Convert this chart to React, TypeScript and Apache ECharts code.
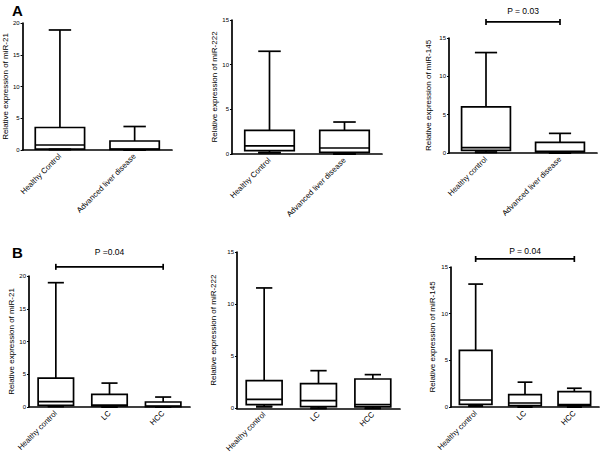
import React, { useEffect, useRef } from "react";
import * as echarts from "echarts";

// ---------- data ----------
const catsA1 = ["Healthy Control", "Advanced liver disease"];
const catsA2 = ["Healthy Control", "Advanced liver disease"];
const catsA3 = ["Healthy control", "Advanced liver disease"];
const catsB = ["Healthy control", "LC", "HCC"];

// [min, Q1, median, Q3, max]
const a1miR21 = [
  [0.1, 0.15, 0.79, 3.54, 18.9],
  [0, 0.1, 0.15, 1.42, 3.7],
];
const a2miR222 = [
  [0.15, 0.37, 0.9, 2.65, 11.5],
  [0, 0.19, 0.67, 2.65, 3.58],
];
const a3miR145 = [
  [0.1, 0.35, 0.69, 6.02, 13.1],
  [0, 0.13, 0.2, 1.39, 2.56],
];
const b1miR21 = [
  [0.1, 0.25, 0.81, 4.42, 18.98],
  [0, 0.15, 0.3, 1.93, 3.65],
  [0, 0.05, 0.15, 0.76, 1.52],
];
const b2miR222 = [
  [0.16, 0.35, 0.86, 2.65, 11.55],
  [0, 0.16, 0.74, 2.37, 3.61],
  [0, 0.13, 0.35, 2.81, 3.23],
];
const b3miR145 = [
  [0.1, 0.29, 0.75, 6.06, 13.17],
  [0, 0.14, 0.43, 1.33, 2.66],
  [0, 0.14, 0.25, 1.65, 2.01],
];

const yTitles = [
  "Relative expression of miR-21",
  "Relative expression of miR-222",
  "Relative expression of miR-145",
  "Relative expression of miR-21",
  "Relative expression of miR-222",
  "Relative expression of miR-145",
];
const yMax = [20, 15, 15, 20, 15, 15];
const yStep = [5, 5, 5, 5, 5, 5];

// significance brackets: [panel, fromCat, toCat, yValue, label]
const brackets: [number, number, number, number, string][] = [
  [2, 0, 1, 17.1, "P = 0.03"],
  [3, 0, 2, 21.4, "P =0.04"],
  [5, 0, 2, 15.86, "P = 0.04"],
];

// ---------- layout ----------
const panels = [
  { cats: catsA1, data: a1miR21, grid: { left: 21, top: 23, width: 151, height: 127 }, nameGap: 12 },
  { cats: catsA2, data: a2miR222, grid: { left: 232, top: 20, width: 150, height: 134 }, nameGap: 13 },
  { cats: catsA3, data: a3miR145, grid: { left: 449, top: 38, width: 148, height: 115 }, nameGap: 17 },
  { cats: catsB, data: b1miR21, grid: { left: 29, top: 276, width: 161, height: 131 }, nameGap: 11 },
  { cats: catsB, data: b2miR222, grid: { left: 237, top: 252, width: 163, height: 157 }, nameGap: 20 },
  { cats: catsB, data: b3miR145, grid: { left: 451, top: 267, width: 148, height: 140 }, nameGap: 15 },
];
const textGap: Record<number, number> = { 2: 11, 3: 15, 5: 8 };

const FONT = "Liberation Sans, Arial, sans-serif";
const LW = 1.7;

function boxRender(params: any, api: any) {
  const cat = api.value(0);
  const mn = api.value(1), q1 = api.value(2), md = api.value(3), q3 = api.value(4), mx = api.value(5);
  const band = api.size([1, 0])[0];
  const bw = band * 0.66;
  const cw = band * 0.3;
  const pMin = api.coord([cat, mn]);
  const pQ1 = api.coord([cat, q1]);
  const pMd = api.coord([cat, md]);
  const pQ3 = api.coord([cat, q3]);
  const pMx = api.coord([cat, mx]);
  const x = pMd[0];
  const st = { stroke: "#000", lineWidth: LW, fill: null };
  return {
    type: "group",
    children: [
      { type: "line", shape: { x1: x, y1: pMx[1], x2: x, y2: pQ3[1] }, style: st },
      { type: "line", shape: { x1: x - cw / 2, y1: pMx[1], x2: x + cw / 2, y2: pMx[1] }, style: st },
      { type: "line", shape: { x1: x, y1: pQ1[1], x2: x, y2: pMin[1] }, style: st },
      { type: "line", shape: { x1: x - cw / 2, y1: pMin[1], x2: x + cw / 2, y2: pMin[1] }, style: st },
      {
        type: "rect",
        shape: { x: x - bw / 2, y: pQ3[1], width: bw, height: pQ1[1] - pQ3[1] },
        style: { stroke: "#000", lineWidth: LW, fill: "#fff" },
      },
      { type: "line", shape: { x1: x - bw / 2, y1: pMd[1], x2: x + bw / 2, y2: pMd[1] }, style: st },
      { type: "line", shape: { x1: x - cw / 2, y1: pMin[1], x2: x + cw / 2, y2: pMin[1] }, style: { stroke: "#000", lineWidth: 2, fill: null } },
    ],
  };
}

function bracketRender(gap: number) {
  return (params: any, api: any) => {
    const a = api.coord([api.value(0), api.value(2)]);
    const b = api.coord([api.value(1), api.value(2)]);
    const st = { stroke: "#000", lineWidth: LW, fill: null };
    return {
      type: "group",
      children: [
        { type: "line", shape: { x1: a[0], y1: a[1], x2: b[0], y2: b[1] }, style: st },
        { type: "line", shape: { x1: a[0], y1: a[1] - 3, x2: a[0], y2: a[1] + 3 }, style: st },
        { type: "line", shape: { x1: b[0], y1: b[1] - 3, x2: b[0], y2: b[1] + 3 }, style: st },
        {
          type: "text",
          x: (a[0] + b[0]) / 2,
          y: a[1] - gap,
          style: {
            text: api.value(3),
            fill: "#000",
            font: `8.5px ${FONT}`,
            align: "center",
            verticalAlign: "middle",
          },
        },
      ],
    };
  };
}

export default function App() {
  const ref = useRef<HTMLDivElement>(null);
  useEffect(() => {
    if (!ref.current) return;
    const chart = echarts.init(ref.current, null, { renderer: "svg" });
    const grid: any[] = [];
    const xAxis: any[] = [];
    const yAxis: any[] = [];
    const series: any[] = [];
    panels.forEach((p, i) => {
      grid.push({ ...p.grid, containLabel: false });
      xAxis.push({
        type: "category",
        gridIndex: i,
        data: p.cats,
        boundaryGap: true,
        axisLine: { lineStyle: { color: "#000", width: LW } },
        axisTick: { alignWithLabel: true, length: 3, lineStyle: { color: "#000", width: 1 } },
        axisLabel: { rotate: 45, fontSize: 7.8, color: "#000", fontFamily: FONT, margin: 5, interval: 0 },
        splitLine: { show: false },
      });
      yAxis.push({
        type: "value",
        gridIndex: i,
        min: 0,
        max: yMax[i],
        interval: yStep[i],
        name: yTitles[i],
        nameLocation: "middle",
        nameGap: p.nameGap,
        nameTextStyle: { fontSize: 8, color: "#000", fontFamily: FONT },
        axisLine: { show: true, lineStyle: { color: "#000", width: LW } },
        axisTick: { show: true, length: 2, lineStyle: { color: "#000", width: 1 } },
        axisLabel: { fontSize: 6, color: "#000", fontFamily: FONT, margin: 3 },
        splitLine: { show: false },
      });
      series.push({
        type: "custom",
        xAxisIndex: i,
        yAxisIndex: i,
        clip: false,
        renderItem: boxRender,
        encode: { x: 0, y: [1, 2, 3, 4, 5] },
        data: p.data.map((d, k) => [k, ...d]),
      });
    });
    brackets.forEach(([panel, c0, c1, yv, label]) => {
      series.push({
        type: "custom",
        xAxisIndex: panel,
        yAxisIndex: panel,
        clip: false,
        renderItem: bracketRender(textGap[panel]),
        encode: { x: [0, 1], y: 2 },
        data: [[c0, c1, yv, label]],
      });
    });
    chart.setOption({
      animation: false,
      backgroundColor: "#fff",
      grid,
      xAxis,
      yAxis,
      series,
      graphic: [
        { type: "text", left: 12, top: 3, style: { text: "A", font: `bold 15px ${FONT}`, fill: "#000" } },
        { type: "text", left: 12, top: 245, style: { text: "B", font: `bold 15px ${FONT}`, fill: "#000" } },
      ],
    });
    return () => chart.dispose();
  }, []);
  return (
    <div
      ref={ref}
      style={{ position: "fixed", left: 0, top: 0, width: 600, height: 455, background: "#fff" }}
    />
  );
}
